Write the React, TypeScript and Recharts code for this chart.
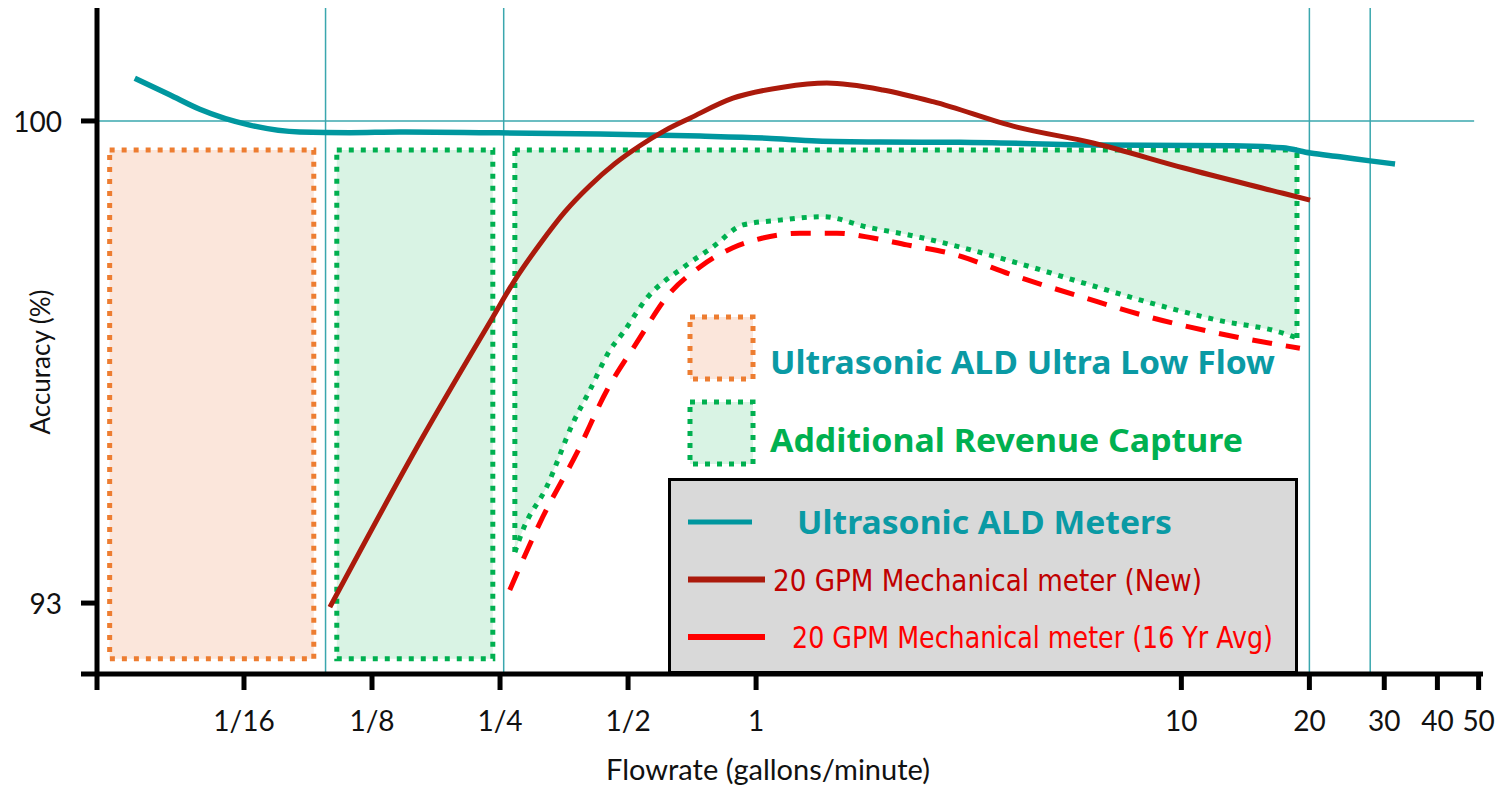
import React from 'react';
import { ComposedChart, Line, Area, XAxis, YAxis, ReferenceArea, ReferenceLine, Legend } from 'recharts';

// ---------- axes ----------
const xDomain: [number, number] = [0.0282, 51.2];
const yDomain: [number, number] = [91.97, 101.64];
const xTicks = [0.0282, 0.0625, 0.125, 0.25, 0.5, 1, 10, 20, 30, 40, 50];
const xTickLabels = ['', '1/16', '1/8', '1/4', '1/2', '1', '10', '20', '30', '40', '50'];
const yTicks = [91.97, 93, 100];
const yTickLabels = ['', '93', '100'];

// ---------- series: [flow (gpm), accuracy (%)] ----------
const ultrasonicALD: [number, number][] = [
  [0.0346, 100.62], [0.0418, 100.38], [0.0492, 100.17], [0.0645, 99.94], [0.0845, 99.84],
  [0.111, 99.83], [0.1453, 99.84], [0.224, 99.83], [0.429, 99.81], [0.738, 99.78],
  [1.06, 99.75], [1.39, 99.71], [1.955, 99.695], [3.015, 99.69], [6.43, 99.65],
  [13.2, 99.64], [17.3, 99.61], [20.1, 99.535], [23.6, 99.48], [27.8, 99.42], [31.8, 99.375],
];
const mechanicalNew: [number, number][] = [
  [0.0995, 92.94], [0.1645, 95.41], [0.2404, 97.15], [0.2709, 97.69], [0.31, 98.21],
  [0.355, 98.68], [0.4065, 99.06], [0.4655, 99.38], [0.533, 99.64], [0.61, 99.86],
  [0.699, 100.04], [0.882, 100.33], [1.156, 100.49], [1.467, 100.55], [1.987, 100.45],
  [2.605, 100.28], [4.105, 99.91], [6.2, 99.68], [10.09, 99.32], [17.34, 98.95], [20.07, 98.85],
];
const mechanical16Yr: [number, number][] = [
  [0.2635, 93.19], [0.315, 94.25], [0.379, 95.18], [0.446, 96.09], [0.524, 96.78],
  [0.627, 97.5], [0.738, 97.88], [0.882, 98.16], [1.037, 98.3], [1.268, 98.37],
  [1.549, 98.37], [1.882, 98.3], [2.263, 98.2], [2.856, 98.08], [4.105, 97.74],
  [5.87, 97.44], [8.44, 97.15], [12.13, 96.92], [19.0, 96.7],
];
const revenueLower: [number, number][] = [
  [0.2709, 93.74], [0.2829, 94.06], [0.322, 94.69], [0.3708, 95.61], [0.4065, 96.09],
  [0.453, 96.67], [0.486, 96.92], [0.554, 97.43], [0.673, 97.87], [0.791, 98.17],
  [0.931, 98.49], [1.138, 98.56], [1.436, 98.61], [1.822, 98.46], [2.389, 98.32],
  [3.015, 98.17], [4.105, 97.94], [5.87, 97.65], [8.44, 97.36], [12.13, 97.11],
  [17.34, 96.92], [18.7, 96.85],
];
const revenueTop = 99.58;
const boxBottom = 92.19;
const ultraLowFlowRange: [number, number] = [0.0302, 0.0912];
const revenueBoxRange: [number, number] = [0.1033, 0.2404];
const gridFlows = [0.0972, 0.255, 20, 27.8];
const gridAccuracy = 100;
const gridAccuracyEnd = 48.8;

// ---------- colours ----------
const TEAL = '#00979f';
const TEAL_TEXT = '#0a9aa4';
const DARK_RED = '#ab1a0c';
const DARK_RED_TEXT = '#c00000';
const RED = '#ff0000';
const ORANGE = '#ed7d31';
const PEACH = '#fbe6db';
const GREEN = '#00b050';
const LIGHT_GREEN = '#d9f3e4';
const GRID = '#3aa7ae';

const legendBoxes = [
  { label: 'Ultrasonic ALD Ultra Low Flow', stroke: ORANGE, fill: PEACH, textColor: TEAL_TEXT, len: 505 },
  { label: 'Additional Revenue Capture', stroke: GREEN, fill: LIGHT_GREEN, textColor: GREEN, len: 473 },
];
const legendLines = [
  { label: 'Ultrasonic ALD Meters', color: TEAL, textColor: TEAL_TEXT, bold: true, len: 375 },
  { label: '20 GPM Mechanical meter (New)', color: DARK_RED, textColor: DARK_RED_TEXT, bold: false, len: 429 },
  { label: '20 GPM Mechanical meter (16 Yr Avg)', color: RED, textColor: RED, bold: false, len: 481 },
];

const toRows = (pairs: [number, number][]) => pairs.map(([flow, acc]) => ({ flow, acc }));
const ultrasonicRows = toRows(ultrasonicALD);
const newRows = toRows(mechanicalNew);
const oldRows = toRows(mechanical16Yr);
const revenueRows = revenueLower.map(([flow, low]) => ({ flow, range: [low, revenueTop] }));

const TICK_FONT = "Lato, 'Liberation Sans', sans-serif";
const BOLD_FONT = "'Noto Sans', 'Open Sans', sans-serif";
const NARROW_FONT = "'Liberation Sans Narrow', 'DejaVu Sans Condensed', 'Roboto', sans-serif";

const XTick = (props: any) => {
  const { x, y, payload, index } = props;
  const i = xTicks.indexOf(payload.value);
  const label = xTickLabels[i >= 0 ? i : index];
  return (
    <text x={x} y={y} textAnchor="middle" dominantBaseline="central" fontFamily={TICK_FONT} fontSize={28} fill="#111">
      {label}
    </text>
  );
};

const YTick = (props: any) => {
  const { x, y, payload, index } = props;
  const i = yTicks.indexOf(payload.value);
  const label = yTickLabels[i >= 0 ? i : index];
  return (
    <text x={x} y={y} textAnchor="end" dominantBaseline="central" fontFamily={TICK_FONT} fontSize={28} fill="#111">
      {label}
    </text>
  );
};

const XLabel = (props: any) => {
  const vb = props.viewBox || { x: 89, y: 666, width: 1386, height: 111 };
  return (
    <text x={vb.x + vb.width / 2 - 22} y={vb.y + 94} textAnchor="middle" dominantBaseline="central" fontFamily={TICK_FONT} fontSize={29} fill="#111">
      Flowrate (gallons/minute)
    </text>
  );
};

const YLabel = (props: any) => {
  const vb = props.viewBox || { x: 0, y: 0, width: 89, height: 666 };
  const cx = vb.x + 32;
  const cy = vb.y + vb.height / 2 + 21;
  return (
    <text transform={`translate(${cx}, ${cy}) rotate(-90)`} textAnchor="middle" dominantBaseline="central" fontFamily={TICK_FONT} fontSize={26} fill="#111">
      Accuracy (%)
    </text>
  );
};

const LegendOverlay = () => (
  <svg width={1495} height={777} style={{ display: 'block', overflow: 'visible' }}>
    {legendBoxes.map((b, i) => (
      <g key={b.label}>
        <rect x={682} y={309 + i * 85} width={63} height={62} fill={b.fill} stroke={b.stroke} strokeWidth={5} strokeDasharray="5 7" />
        <text x={762} y={366 + i * 78} fontFamily={BOLD_FONT} fontWeight={700} fontSize={32} fill={b.textColor} textLength={b.len} lengthAdjust="spacingAndGlyphs">
          {b.label}
        </text>
      </g>
    ))}
    <rect x={661.5} y={471.5} width={627} height={193} fill="#d9d9d9" stroke="#000" strokeWidth={3} />
    {legendLines.map((l, i) => (
      <g key={l.label}>
        <line x1={680} x2={i === 0 ? 744 : 757} y1={514 + i * 57.5} y2={514 + i * 57.5} stroke={l.color} strokeWidth={i === 0 ? 5 : 6} />
        <text
          x={i === 0 ? 789 : i === 1 ? 765 : 784}
          y={i === 0 ? 526 : 583 + (i - 1) * 57}
          fontFamily={l.bold ? BOLD_FONT : NARROW_FONT}
          fontWeight={l.bold ? 700 : 400}
          fontSize={l.bold ? 32 : 30}
          fill={l.textColor}
          textLength={l.len}
          lengthAdjust="spacingAndGlyphs"
        >
          {l.label}
        </text>
      </g>
    ))}
  </svg>
);

export default function App() {
  return (
    <div style={{ width: 1495, height: 777, position: 'relative' }}>
      <ComposedChart width={1495} height={777} margin={{ top: 0, right: 20, bottom: 0, left: 0 }}>
        <XAxis
          dataKey="flow"
          type="number"
          scale="log"
          domain={xDomain}
          allowDataOverflow
          ticks={xTicks}
          interval={0}
          height={111}
          tickSize={16}
          tickMargin={30}
          axisLine={{ stroke: '#000', strokeWidth: 5 }}
          tickLine={{ stroke: '#000', strokeWidth: 5 }}
          tick={<XTick />}
          label={XLabel}
        />
        <YAxis
          type="number"
          domain={yDomain}
          allowDataOverflow
          ticks={yTicks}
          interval={0}
          width={89}
          tickSize={16}
          tickMargin={19}
          axisLine={{ stroke: '#000', strokeWidth: 5 }}
          tickLine={{ stroke: '#000', strokeWidth: 5 }}
          tick={<YTick />}
          label={YLabel}
        />
        <ReferenceArea x1={ultraLowFlowRange[0]} x2={ultraLowFlowRange[1]} y1={boxBottom} y2={revenueTop} fill={PEACH} fillOpacity={1} stroke={ORANGE} strokeWidth={5} strokeDasharray="5 7" />
        <ReferenceArea x1={revenueBoxRange[0]} x2={revenueBoxRange[1]} y1={boxBottom} y2={revenueTop} fill={LIGHT_GREEN} fillOpacity={1} stroke={GREEN} strokeWidth={5} strokeDasharray="5 7" />
        <Area data={revenueRows} dataKey="range" type="monotone" fill={LIGHT_GREEN} fillOpacity={1} stroke={GREEN} strokeWidth={5} strokeDasharray="5 7" dot={false} activeDot={false} isAnimationActive={false} />
        <ReferenceLine segment={[{ x: revenueLower[0][0], y: revenueLower[0][1] }, { x: revenueLower[0][0], y: revenueTop }]} stroke={GREEN} strokeWidth={5} strokeDasharray="5 7" />
        <ReferenceLine segment={[{ x: revenueLower[revenueLower.length - 1][0], y: revenueLower[revenueLower.length - 1][1] }, { x: revenueLower[revenueLower.length - 1][0], y: revenueTop }]} stroke={GREEN} strokeWidth={5} strokeDasharray="5 7" />
        {gridFlows.map((f) => (
          <ReferenceLine key={f} x={f} stroke={GRID} strokeWidth={1.5} />
        ))}
        <ReferenceLine segment={[{ x: xDomain[0], y: gridAccuracy }, { x: gridAccuracyEnd, y: gridAccuracy }]} stroke={GRID} strokeWidth={1.5} />
        <Line data={ultrasonicRows} dataKey="acc" type="monotone" stroke={TEAL} strokeWidth={5.5} dot={false} activeDot={false} isAnimationActive={false} />
        <Line data={newRows} dataKey="acc" type="monotone" stroke={DARK_RED} strokeWidth={5} dot={false} activeDot={false} isAnimationActive={false} />
        <Line data={oldRows} dataKey="acc" type="monotone" stroke={RED} strokeWidth={5} strokeDasharray="20 14" dot={false} activeDot={false} isAnimationActive={false} />
        <Legend
          layout="vertical"
          align="center"
          verticalAlign="middle"
          content={() => <LegendOverlay />}
          wrapperStyle={{ left: 0, top: 0, width: 1495, height: 777, pointerEvents: 'none' }}
        />
      </ComposedChart>
    </div>
  );
}
